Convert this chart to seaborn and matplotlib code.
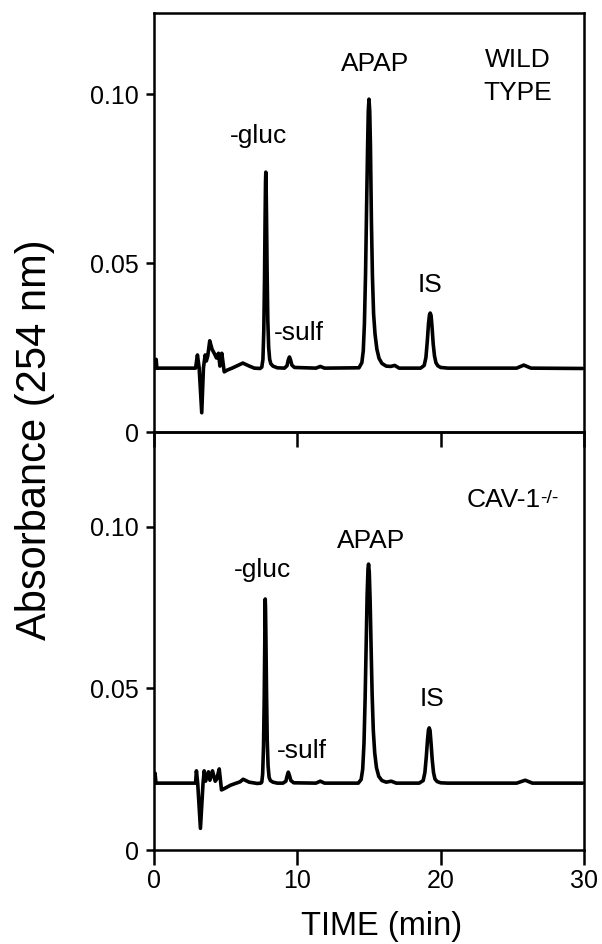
import matplotlib
matplotlib.use("Agg")
import matplotlib.pyplot as plt
import seaborn as sns

# ---- WILD TYPE trace (time in min, absorbance) ----
wt_start_t = [0.0, 0.1, 0.15, 0.2, 2.9]
wt_start_a = [0.0189, 0.0189, 0.0215, 0.0189, 0.0189]
wt_noise_t = [3.03, 3.15, 3.33, 3.45, 3.57, 3.65, 3.75, 3.89, 4.05, 4.2, 4.36, 4.5, 4.6, 4.73, 4.9,
              5.1, 5.5, 5.9, 6.2, 6.6, 7.0, 7.4]
wt_noise_a = [0.0228, 0.0190, 0.0057, 0.0190, 0.0228, 0.0210, 0.0225, 0.0270, 0.0245, 0.0233, 0.0219, 0.0233, 0.0195, 0.0233, 0.0178,
              0.0183, 0.0190, 0.0198, 0.0204, 0.0196, 0.0189, 0.0188]
wt_gluc_t = [7.52, 7.6, 7.66, 7.71, 7.75, 7.78, 7.8, 7.82, 7.85, 7.89, 7.94, 8.0, 8.07, 8.15, 8.3, 8.6]
wt_gluc_a = [0.0192, 0.0215, 0.0300, 0.0450, 0.0630, 0.0740, 0.0769, 0.0740, 0.0640, 0.0480, 0.0330, 0.0250, 0.0215, 0.0202, 0.0195, 0.0190]
wt_sulf_t = [9.1, 9.28, 9.36, 9.45, 9.53, 9.62, 9.8, 11.3, 11.6, 11.9]
wt_sulf_a = [0.0189, 0.0196, 0.0212, 0.0222, 0.0213, 0.0198, 0.0191, 0.0189, 0.0194, 0.0189]
wt_apap_t = [14.3, 14.5, 14.6, 14.68, 14.76, 14.83, 14.9, 14.95, 15.0, 15.05, 15.1, 15.17, 15.24, 15.32,
             15.42, 15.55, 15.7, 15.9, 16.2, 16.5, 16.8, 17.1]
wt_apap_a = [0.0190, 0.0205, 0.0240, 0.0320, 0.0470, 0.0660, 0.0840, 0.0950, 0.0985, 0.0950, 0.0850, 0.0620, 0.0460, 0.0350,
             0.0290, 0.0245, 0.0218, 0.0203, 0.0195, 0.0194, 0.0197, 0.0189]
wt_is_t = [18.6, 18.85, 18.97, 19.07, 19.15, 19.22, 19.27, 19.33, 19.4, 19.48, 19.57, 19.67, 19.8, 20.0, 20.5,
           25.3, 25.8, 26.3, 29.9]
wt_is_a = [0.0189, 0.0197, 0.0220, 0.0270, 0.0320, 0.0347, 0.0352, 0.0345, 0.0310, 0.0260, 0.0225, 0.0205, 0.0196, 0.0191, 0.0189,
           0.0189, 0.0198, 0.0189, 0.0188]

# ---- CAV-1 -/- trace ----
ko_start_t = [0.0, 0.07, 0.14, 2.9]
ko_start_a = [0.0207, 0.0238, 0.0207, 0.0207]
ko_noise_t = [2.96, 3.05, 3.24, 3.42, 3.5, 3.6, 3.8, 3.9, 4.08, 4.27, 4.38, 4.55, 4.71, 4.9, 5.36, 6.0,
              6.22, 6.64, 7.2, 7.45]
ko_noise_a = [0.0245, 0.0206, 0.0067, 0.0206, 0.0245, 0.0213, 0.0242, 0.0216, 0.0245, 0.0213, 0.0220, 0.0251, 0.0186, 0.0190, 0.0201, 0.0211,
              0.0219, 0.0210, 0.0206, 0.0207]
ko_gluc_t = [7.52, 7.58, 7.64, 7.69, 7.73, 7.74, 7.76, 7.78, 7.81, 7.85, 7.9, 7.96, 8.03, 8.12, 8.3, 8.6]
ko_gluc_a = [0.0210, 0.0235, 0.0320, 0.0470, 0.0650, 0.0750, 0.0777, 0.0750, 0.0650, 0.0490, 0.0340, 0.0260, 0.0225, 0.0215, 0.0210, 0.0207]
ko_sulf_t = [9.0, 9.2, 9.28, 9.37, 9.45, 9.55, 9.75, 11.3, 11.6, 11.9]
ko_sulf_a = [0.0207, 0.0213, 0.0228, 0.0241, 0.0231, 0.0215, 0.0208, 0.0207, 0.0213, 0.0207]
ko_apap_t = [14.25, 14.45, 14.56, 14.65, 14.73, 14.8, 14.87, 14.93, 14.97, 15.02, 15.08, 15.15, 15.22, 15.3,
             15.4, 15.52, 15.68, 15.9, 16.2, 16.55, 16.9]
ko_apap_a = [0.0207, 0.0218, 0.0250, 0.0330, 0.0470, 0.0630, 0.0790, 0.0870, 0.0885, 0.0860, 0.0770, 0.0620, 0.0480, 0.0370,
             0.0300, 0.0255, 0.0228, 0.0215, 0.0210, 0.0213, 0.0207]
ko_is_t = [18.5, 18.78, 18.9, 19.0, 19.08, 19.15, 19.2, 19.26, 19.33, 19.41, 19.5, 19.6, 19.75, 20.0, 20.5,
           25.3, 25.9, 26.4, 29.9]
ko_is_a = [0.0207, 0.0215, 0.0240, 0.0290, 0.0340, 0.0372, 0.0378, 0.0370, 0.0330, 0.0280, 0.0240, 0.0220, 0.0212, 0.0208, 0.0207,
           0.0207, 0.0216, 0.0207, 0.0207]

wt_time = wt_start_t + wt_noise_t + wt_gluc_t + wt_sulf_t + wt_apap_t + wt_is_t
wt_abs = wt_start_a + wt_noise_a + wt_gluc_a + wt_sulf_a + wt_apap_a + wt_is_a
ko_time = ko_start_t + ko_noise_t + ko_gluc_t + ko_sulf_t + ko_apap_t + ko_is_t
ko_abs = ko_start_a + ko_noise_a + ko_gluc_a + ko_sulf_a + ko_apap_a + ko_is_a

peak_names = ["-gluc", "-sulf", "APAP", "IS"]
wt_label_x = [7.3, 10.1, 15.45, 19.27]
wt_label_y = [0.0855, 0.0272, 0.1068, 0.0415]
ko_label_x = [7.6, 10.35, 15.15, 19.37]
ko_label_y = [0.0846, 0.0284, 0.0934, 0.0447]

x_ticks = [0, 10, 20, 30]
y_ticks = [0, 0.05, 0.10]
y_tick_labels = ["0", "0.05", "0.10"]

sns.set_style("ticks")
plt.rcParams["font.family"] = ["Liberation Sans", "DejaVu Sans"]
plt.rcParams["axes.linewidth"] = 1.8
plt.rcParams["text.color"] = "black"
plt.rcParams["xtick.color"] = "black"
plt.rcParams["ytick.color"] = "black"
plt.rcParams["axes.edgecolor"] = "black"

W, H = 602, 944
fig = plt.figure(figsize=(W / 100, H / 100), dpi=100)
ax2 = fig.add_axes([154 / W, 1 - 850 / H, 430 / W, 418 / H])
ax1 = fig.add_axes([154 / W, 1 - 432 / H, 430 / W, 419 / H])
ax1.patch.set_alpha(0)
ax2.patch.set_alpha(0)

sns.lineplot(x=wt_time, y=wt_abs, ax=ax1, color="black", lw=2.6)
sns.lineplot(x=ko_time, y=ko_abs, ax=ax2, color="black", lw=2.6)

for ax, top in [(ax1, 0.124), (ax2, 0.1294)]:
    ax.set_xlim(0, 30)
    ax.set_ylim(0, top)
    ax.set_xticks(x_ticks)
    ax.set_yticks(y_ticks)
    ax.set_yticklabels(y_tick_labels)
    ax.tick_params(axis="y", length=6, width=1.8, pad=5, labelsize=18, colors="black")
    ax.tick_params(axis="x", length=10.5, width=1.8, pad=3, labelsize=18, colors="black")
    ax.set_xlabel("")
    ax.set_ylabel("")

ax1.set_xticklabels([])

for name, x, y in zip(peak_names, wt_label_x, wt_label_y):
    ax1.text(x, y, name, ha="center", va="baseline", fontsize=19)
for name, x, y in zip(peak_names, ko_label_x, ko_label_y):
    ax2.text(x, y, name, ha="center", va="baseline", fontsize=19)

ax1.text(25.4, 0.108, "WILD", ha="center", va="baseline", fontsize=19)
ax1.text(25.4, 0.0982, "TYPE", ha="center", va="baseline", fontsize=19)
cav = ax2.text(21.8, 0.1063, "CAV-1", ha="left", va="baseline", fontsize=19)
ax2.annotate("-/-", xy=(1, 1), xycoords=cav, xytext=(-0.5, -2), textcoords="offset points",
             ha="left", va="top", fontsize=14)

fig.text(0.058, 0.534, "Absorbance (254 nm)", rotation=90, ha="center", va="center", fontsize=30)
fig.text(382 / W, 1 - 926 / H, "TIME (min)", ha="center", va="center", fontsize=23.5)

fig.savefig("out.png", dpi=100)
